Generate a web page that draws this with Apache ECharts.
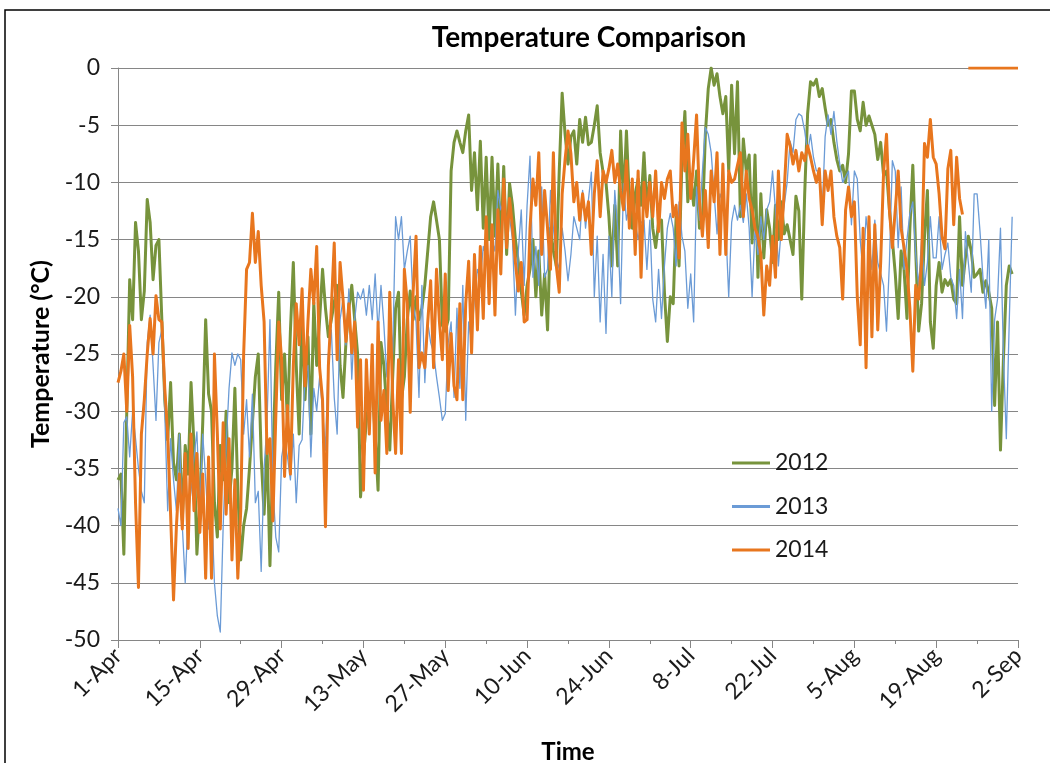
<!DOCTYPE html>
<html>
<head>
<meta charset="utf-8">
<title>Temperature Comparison</title>
<script src="https://cdn.jsdelivr.net/npm/echarts@6/dist/echarts.min.js"></script>
<style>
  html, body { margin: 0; padding: 0; background: #fff; }
  #chart { width: 1050px; height: 763px; }
</style>
</head>
<body>
<div id="chart"></div>
<script>
// Tick labels along the time axis, one every 14 days starting 1 April
const tickLabels = ['1-Apr', '15-Apr', '29-Apr', '13-May', '27-May', '10-Jun',
                    '24-Jun', '8-Jul', '22-Jul', '5-Aug', '19-Aug', '2-Sep'];

const seriesNames = ['2012', '2013', '2014'];

// Readings every 12 hours from 1 April (°C)
const temps2012 = [
  -36, -35.5, -42.5, -30, -18.5, -22, -13.5, -16, -22, -19.5, -11.5, -13.5, -18.5, -15.5,
  -15, -22, -29, -32.5, -27.5, -34.5, -36, -32, -39.5, -33, -35.5, -27.5, -33, -42.5,
  -38, -31, -22, -28.5, -30, -38, -41, -33, -36, -30, -38, -35, -28, -37,
  -43, -40, -38.5, -35, -31, -27, -25, -34, -39, -33, -43.5, -34, -26, -19.6,
  -29, -25, -31, -23, -17, -26, -32, -21.5, -29, -23.5, -32, -20.5, -26, -22,
  -17.6, -21, -23.5, -22, -20.5, -19, -26, -28.8, -24, -21, -19, -22, -25, -37.5,
  -34, -30.8, -29, -28, -32, -36.9, -24, -26, -30, -33.4, -27, -21, -19.6, -29,
  -27, -22, -19.5, -22, -20, -22, -21, -19, -16, -13, -11.7, -13.3, -15, -22.5,
  -23, -22, -9, -6.5, -5.5, -6.5, -7.4, -5.5, -4.1, -10.7, -7.4, -12.4, -6.4, -14,
  -7.8, -15, -7.8, -14.7, -8.4, -15.6, -8.6, -16.3, -10.1, -12, -15, -17, -19.5, -21.6,
  -19, -17.6, -15, -20, -16, -21.6, -18, -22.9, -14, -16, -17.3, -9, -2.2, -5.8,
  -8.4, -6, -5.5, -8.4, -4.5, -6.5, -4.3, -6.7, -6.5, -5, -3.3, -7.4, -9.1, -10,
  -13, -17.3, -12, -17.3, -5.5, -11.7, -5.5, -11.7, -14, -11, -9.7, -12, -7.4, -12.4,
  -9.4, -14, -15.7, -13.5, -13.3, -19.6, -23.9, -20, -20.6, -13, -17.3, -8, -3.8, -11.7,
  -9.5, -12, -9, -14, -13.6, -5.8, -1.8, 0, -1.5, -0.5, -2.5, -4, -2.5, -9,
  -1.5, -7.5, -1.2, -13, -6.2, -9, -7.6, -15.3, -7.6, -18.3, -11, -16.6, -12.4, -14,
  -17, -12, -15, -11.7, -14.5, -13.7, -15, -16.3, -11.2, -12.5, -20.2, -11, -4, -1.2,
  -1.5, -1, -2.5, -1.8, -3.5, -5, -4.5, -6.5, -8, -9, -8.5, -10, -7.5, -2,
  -2, -4.5, -5.5, -3, -5, -4.2, -5, -5.8, -8, -6.5, -9.4, -9, -12.4, -15,
  -18, -21.9, -16, -17.6, -21.9, -14, -8.5, -16, -23, -20.6, -14.7, -10.7, -22.2, -24.5,
  -19, -17, -19.6, -18.5, -19, -18.5, -20.2, -20.6, -13, -19, -16.6, -14.7, -16, -18.3,
  -18, -17.6, -19.6, -18.6, -19.6, -21, -29.5, -22.2, -33.4, -25.5, -19, -17.3, -18
];

const temps2013 = [
  -38.5, -40, -31, -30.5, -34, -30, -32.4, -35, -37, -38, -24, -21.6, -26, -30.8,
  -24, -22.9, -30, -38.7, -32.4, -36, -38.7, -32, -40, -45, -39, -37, -34, -31.8,
  -38.7, -32, -36, -40.3, -38, -45, -47.9, -49.3, -40, -33, -28, -24.9, -26, -25,
  -25.5, -32, -29, -34, -28.5, -38, -37, -44, -35, -31, -22, -36.5, -41, -42.3,
  -34, -32.5, -34, -36, -32, -38, -33, -32.5, -27, -26, -34, -28, -30, -27,
  -30, -33.4, -25, -22.9, -28.8, -32, -22, -20.2, -24.2, -19.3, -27.2, -22, -19.6, -20.2,
  -19.3, -21.6, -19, -22, -18, -23, -19, -22.5, -27, -21, -25, -13, -15, -13,
  -17.6, -16, -14.7, -20.6, -22.2, -28.8, -19, -27.5, -22.2, -24, -24.9, -27, -28.8, -30.8,
  -30.2, -24, -22.2, -28.8, -21, -28, -19, -30.8, -22.2, -23.9, -20, -17.6, -18.5, -15.6,
  -16.5, -17.6, -15, -16, -10.7, -12.4, -11.7, -13.5, -13, -15, -21.6, -16, -12.4, -19,
  -12, -7.7, -18.3, -15.6, -19, -10.4, -18.3, -17.6, -10.7, -14, -16.6, -17.6, -14, -16,
  -18.6, -16.3, -13, -14, -15, -10.7, -14, -11.5, -9.1, -20, -14.7, -22.2, -16.3, -23.2,
  -14.7, -20, -10.7, -14, -20.6, -10.1, -13.3, -12, -11.7, -13.5, -15, -13.5, -13.3, -17.6,
  -13.3, -20.2, -22.2, -17.6, -21.9, -17.3, -14, -12.7, -14, -17.3, -11.7, -14.7, -16, -21,
  -18, -22.2, -10.4, -13.3, -9, -5.2, -5.8, -7.4, -11, -14.5, -11, -11.7, -14, -20,
  -13.5, -12, -13.3, -12, -13.5, -11, -14, -20, -14, -16.3, -13, -15, -12.4, -11.7,
  -9, -12.4, -17.3, -14, -12, -10, -6.4, -7.4, -4.5, -4, -4.2, -5.5, -7.4, -5.8,
  -7.8, -9, -9, -12.4, -6, -4.1, -5.8, -3.8, -6.4, -8.4, -10, -9.5, -9, -13.7,
  -9, -9.7, -15, -18, -13, -15, -17.6, -13.3, -17, -18, -19, -23, -17, -8.1,
  -9, -15.7, -10.4, -17.6, -15, -12.7, -11.7, -16.3, -19, -15, -19, -17, -13, -16.6,
  -16.6, -13, -17.6, -16.3, -15.3, -18.3, -19, -21.9, -17.6, -21.9, -14.3, -17, -19.6, -11,
  -11, -14.3, -18.3, -21, -15, -30, -22, -20.2, -14, -25, -32.4, -22.2, -13
];

// null marks the missing readings before the logger reports 0
const temps2014 = [
  -27.5, -26.5, -25, -30, -22.5, -27, -38, -45.4, -32, -29, -25, -21.9, -25, -19.9,
  -22, -22.2, -28, -32, -39, -46.5, -40, -35.5, -40.3, -33.7, -42, -32, -38.7, -33.7,
  -40.6, -35.5, -44.6, -34, -44.6, -25, -32, -40.3, -31, -39, -32.4, -43, -36, -44.6,
  -38.7, -25, -17.6, -17, -12.7, -17, -14.3, -19, -22.2, -33.7, -32.4, -39.6, -30.5, -22.2,
  -25.5, -35.7, -29.5, -35.5, -26, -20.6, -24.2, -19.3, -27.8, -22.2, -17.6, -20.6, -15.6, -26.2,
  -29, -40.1, -26, -21, -15.3, -25.5, -17, -20.2, -23.9, -20.6, -24.9, -22.2, -31.4, -25.5,
  -36.9, -25.5, -32, -24.2, -35.4, -22.2, -30.8, -28.2, -33.7, -19.6, -28.8, -33.7, -25.5, -33.7,
  -17.6, -20.6, -30.1, -19.6, -14.7, -26.2, -24.9, -26.2, -22.2, -18.6, -26.2, -17.6, -22.2, -25.5,
  -18, -28.2, -23.2, -27.8, -29, -20.6, -29, -20.6, -16.9, -24.9, -16.3, -22.9, -15.6, -21.9,
  -13, -20.6, -13.7, -21.6, -12.4, -18, -9.7, -15.7, -11.4, -14, -17, -19.5, -17, -22.2,
  -22, -14, -9.7, -12, -7.4, -16.3, -10.7, -14, -17.6, -7.4, -17.3, -19.6, -11, -8,
  -5.5, -7.5, -11.7, -10, -13.3, -11, -13.3, -11.7, -16.3, -11, -8.1, -13, -9, -10,
  -8.8, -7.2, -10, -8.4, -10.7, -12.4, -8.1, -14, -9.7, -16.3, -9, -18.3, -10, -13,
  -10, -13, -9, -14.3, -10, -11.4, -9.7, -9, -13, -12, -16.6, -4.8, -9, -5.8,
  -11.4, -8, -4.1, -11.7, -14.7, -10.7, -15.7, -9, -11.7, -7.4, -16.3, -8.4, -16.3, -9,
  -10, -9.7, -8.5, -7.4, -13, -9, -11.4, -12.4, -14, -14.7, -16.3, -21.6, -17.3, -19,
  -14.7, -18.3, -9, -15, -10.7, -5.8, -6.8, -8.4, -7.2, -9, -7.4, -8.1, -6.8, -7.8,
  -9, -10, -8.8, -13.7, -9, -10.7, -9, -13, -14.7, -15.7, -20.2, -12.4, -10.4, -13,
  -11.7, -20, -24.2, -14, -26.2, -13, -23.5, -13.7, -22.9, -17, -9.1, -5.8, -12.4, -15.7,
  -12.4, -9, -14, -15.7, -17.6, -21, -26.5, -19, -20.2, -17, -6.6, -7.8, -4.5, -7.8,
  -8.4, -11, -14.7, -15.8, -8.8, -7.2, -13.7, -7.8, -11.4, -12.8, null, 0, 0, 0,
  0, 0, 0, 0, 0, 0, 0, 0, 0, 0, 0, 0, 0, 0, 0
];

const STEP_DAYS = 0.5;      // 12-hour readings
const SPAN_DAYS = 154;      // 1 April to 2 September
const TICK_DAYS = 14;

function toPoints(values) {
  return values.map((v, i) => [i * STEP_DAYS, v === null ? '-' : v]);
}

const FONT = 'Lato, "Open Sans", "DejaVu Sans", sans-serif';
const AXIS_GREY = '#868686';
const TEXT = '#1a1a1a';

const chart = echarts.init(document.getElementById('chart'), null, { renderer: 'canvas' });

chart.setOption({
  animation: false,
  backgroundColor: '#ffffff',
  title: {
    text: 'Temperature Comparison',
    left: 584,
    top: 19,
    textAlign: 'center',
    textStyle: { fontFamily: FONT, fontWeight: 'bold', fontSize: 28, color: '#000' }
  },
  grid: { left: 118, right: 32, top: 68, bottom: 123, outerBoundsMode: 'none', containLabel: false },
  legend: {
    orient: 'vertical',
    left: 727,
    top: 445,
    icon: 'rect',
    itemWidth: 38,
    itemHeight: 3,
    itemGap: 17.5,
    data: seriesNames,
    textStyle: { fontFamily: FONT, fontSize: 23, color: TEXT, lineHeight: 26 }
  },
  xAxis: {
    type: 'value',
    min: 0,
    max: SPAN_DAYS,
    interval: TICK_DAYS,
    name: 'Time',
    nameLocation: 'middle',
    nameGap: 100,
    nameTextStyle: { fontFamily: FONT, fontWeight: 'bold', fontSize: 24, color: '#000' },
    axisLine: { show: true, onZero: false, lineStyle: { color: AXIS_GREY, width: 1 } },
    axisTick: { show: true, length: 8, lineStyle: { color: AXIS_GREY } },
    minorTick: { show: true, splitNumber: 2, length: 4, lineStyle: { color: AXIS_GREY } },
    splitLine: { show: false },
    axisLabel: {
      rotate: 45,
      margin: 12,
      fontFamily: FONT,
      fontSize: 23,
      color: TEXT,
      formatter: v => tickLabels[Math.round(v / TICK_DAYS)]
    }
  },
  yAxis: {
    type: 'value',
    min: -50,
    max: 0,
    interval: 5,
    name: 'Temperature (°C)',
    nameLocation: 'middle',
    nameGap: 52,
    nameTextStyle: { fontFamily: FONT, fontWeight: 'bold', fontSize: 25, color: '#000' },
    axisLine: { show: true, lineStyle: { color: AXIS_GREY, width: 1 } },
    axisTick: { show: true, length: 7, lineStyle: { color: AXIS_GREY } },
    splitLine: { show: true, lineStyle: { color: AXIS_GREY, width: 1 } },
    axisLabel: { margin: 18, fontFamily: FONT, fontSize: 23, color: TEXT }
  },
  series: [
    {
      name: seriesNames[0], type: 'line', symbol: 'none',
      color: '#77933C',
      lineStyle: { width: 3, join: 'round' },
      data: toPoints(temps2012)
    },
    {
      name: seriesNames[1], type: 'line', symbol: 'none',
      color: '#6B9BD6',
      lineStyle: { width: 1.3, join: 'round' },
      data: toPoints(temps2013)
    },
    {
      name: seriesNames[2], type: 'line', symbol: 'none',
      color: '#E8761E',
      lineStyle: { width: 3, join: 'round' },
      data: toPoints(temps2014)
    }
  ],
  graphic: [
    {
      type: 'rect',
      silent: true,
      shape: { x: 5, y: 10, width: 1200, height: 900 },
      style: { fill: 'none', stroke: '#000', lineWidth: 1.5 }
    }
  ]
});
</script>
</body>
</html>
